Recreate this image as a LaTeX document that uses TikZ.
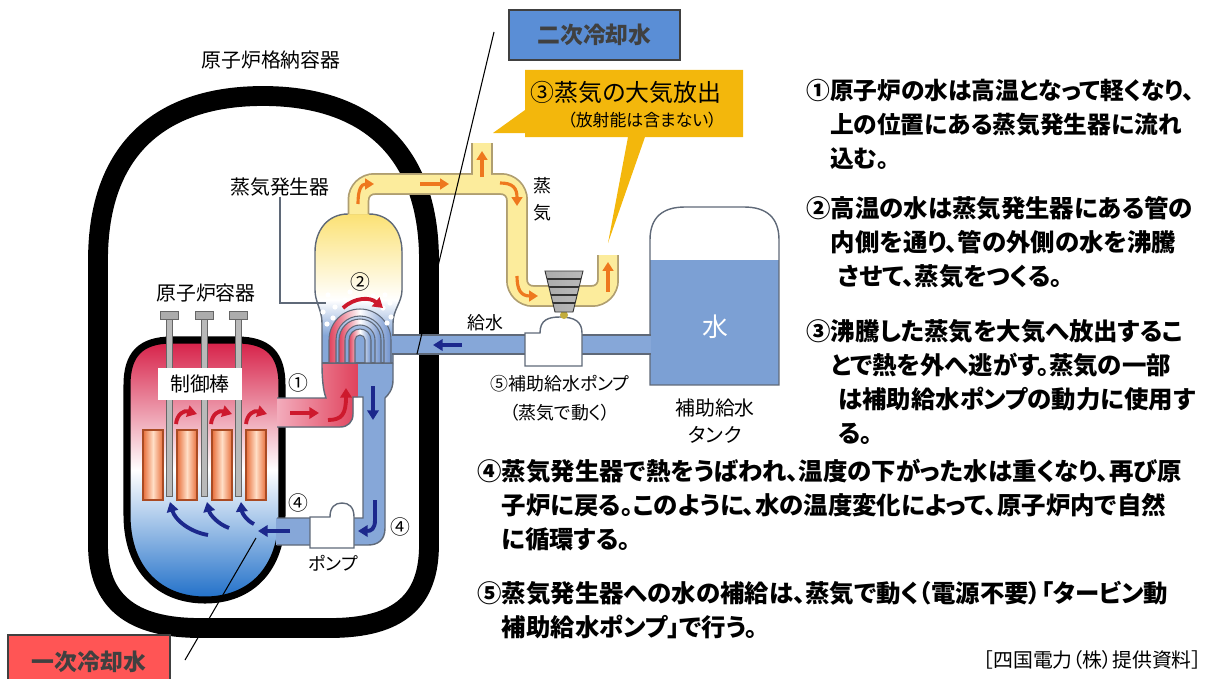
\documentclass[tikz,border=0pt]{standalone}
\usepackage{fontspec}
\setmainfont{Noto Sans CJK JP}[RawFeature=+palt]
\usepackage{xcolor}
\usetikzlibrary{arrows.meta}

\definecolor{pipeblue}{RGB}{134,167,216}
\definecolor{tubeblue}{RGB}{112,146,205}
\definecolor{tankblue}{RGB}{124,160,212}
\definecolor{hotred}{RGB}{224,66,92}
\definecolor{hotpink}{RGB}{243,172,188}
\definecolor{corered}{RGB}{214,30,70}
\definecolor{coreblue}{RGB}{30,110,200}
\definecolor{steam}{RGB}{252,236,156}
\definecolor{steamtop}{RGB}{251,224,110}
\definecolor{steamedge}{RGB}{175,158,112}
\definecolor{edgegray}{RGB}{95,105,120}
\definecolor{arrorange}{RGB}{238,120,30}
\definecolor{arrred}{RGB}{205,25,45}
\definecolor{arrnavy}{RGB}{28,40,140}
\definecolor{calloutgold}{RGB}{243,183,12}
\definecolor{tagblue}{RGB}{90,142,214}
\definecolor{tagred}{RGB}{255,85,85}
\definecolor{fuel}{RGB}{232,110,58}
\definecolor{fuellight}{RGB}{255,222,198}
\definecolor{fueledge}{RGB}{170,75,35}

\begin{document}
\begin{tikzpicture}[
x=0.02cm, y=-0.02cm,
lbl/.style={font=\fontsize{11.3}{13}\selectfont, inner sep=0pt},
sml/.style={font=\fontsize{10.2}{12}\selectfont, inner sep=0pt},
desc/.style={font=\bfseries\fontsize{13.9}{19.3}\selectfont, align=left, inner sep=0pt, anchor=north west},
tagbox/.style={draw=black!75, line width=1pt, font=\bfseries\fontsize{13}{15}\selectfont, text=black!75, inner sep=0pt},
wall/.style={draw=edgegray, line width=0.8pt},
hotflow/.style={draw=arrred, line width=2.2pt, -{Triangle[length=5.5pt, width=6.5pt]}},
coldflow/.style={draw=arrnavy, line width=2.2pt, -{Triangle[length=5.5pt, width=6.5pt]}},
vapflow/.style={draw=arrorange, line width=1.8pt, -{Triangle[length=5pt, width=6pt]}}
]
\useasboundingbox (0,0) rectangle (1213,679);

% containment
\draw[line width=11.3pt] (98,400) -- (98,545) .. controls (98,600) and (130,628) .. (200,628) -- (330,628) .. controls (400,628) and (429,600) .. (429,545) -- (429,260) .. controls (429,150) and (366,96) .. (263,96) .. controls (160,96) and (98,150) .. (98,260) -- cycle;

% tank
\fill[tankblue] (650,260) rectangle (779,385);
\draw[wall] (650,385) -- (650,240) .. controls (650,218) and (662,207) .. (685,207) -- (744,207) .. controls (767,207) and (779,218) .. (779,240) -- (779,385) -- cycle;

% steam generator shell
\begin{scope}
\clip (322,365) -- (322,323) .. controls (322,310) and (315,302) .. (315,290) -- (315,252) .. controls (315,230) and (328,214) .. (348,214) -- (369,214) .. controls (389,214) and (402,230) .. (402,252) -- (402,290) .. controls (402,302) and (393,310) .. (393,323) -- (393,365) -- cycle;
\fill[top color=steamtop, bottom color=white] (310,210) rectangle (405,300);
\fill[top color=white, bottom color=pipeblue] (310,300) rectangle (405,335);
\fill[pipeblue] (310,335) rectangle (405,366);
\end{scope}
\draw[wall] (348,214) .. controls (328,214) and (315,230) .. (315,252) -- (315,290) .. controls (315,302) and (322,310) .. (322,323) -- (322,363);
\draw[wall] (369,214) .. controls (389,214) and (402,230) .. (402,252) -- (402,290) .. controls (402,302) and (393,310) .. (393,323) -- (393,363);

% steam line
\draw[steamedge, line width=12.5pt, rounded corners=9pt] (358.5,214) -- (358.5,184) -- (517,184) -- (517,296) -- (608,296) -- (608,255);
\draw[steamedge, line width=12.5pt] (482,184) -- (482,143);
\draw[steam, line width=10.5pt, rounded corners=9pt] (358.5,214) -- (358.5,184) -- (517,184) -- (517,296) -- (608,296) -- (608,255);
\draw[steam, line width=10.5pt] (482,184) -- (482,143);

% feed water line
\draw[edgegray, line width=11.5pt] (392,344.5) -- (651,344.5);
\draw[pipeblue, line width=10pt] (392,344.5) -- (651,344.5);

% reactor vessel
\draw[line width=4pt, top color=corered, bottom color=coreblue, middle color=white] (127,385) .. controls (127,355) and (140,340) .. (172,340) -- (237,340) .. controls (269,340) and (282,355) .. (282,385) -- (282,515) .. controls (282,570) and (250,600) .. (205,600) .. controls (160,600) and (127,570) .. (127,515) -- cycle;
\foreach \fx in {143,177,212,246}
  \draw[fueledge, line width=0.6pt, left color=fuel, right color=fuel, middle color=fuellight] (\fx,430) rectangle (\fx+20,500);
\foreach \rx in {169,204,238} {
  \draw[black!60, fill=gray!55, line width=0.5pt] (\rx-3,318) rectangle (\rx+3,496);
  \draw[black!60, fill=gray!65, line width=0.5pt] (\rx-9,311) rectangle (\rx+9,319);
}
\node[lbl, fill=white, minimum width=1.7cm, minimum height=0.64cm] (rods) at (200,384) {制御棒};

% primary loop
\fill[left color=hotpink, right color=hotred] (277,398) -- (326,398) .. controls (323,390) and (322,378) .. (322,363) -- (358,363) -- (358,397) -- (353,397) -- (353,414) .. controls (353,422) and (348,427) .. (340,427) -- (277,427) -- cycle;
\fill[pipeblue] (358,363) -- (393,363) -- (393,380) .. controls (393,390) and (388,395) .. (385,398) -- (385,528) .. controls (385,540) and (378,545) .. (368,545) -- (276,545) -- (276,518) -- (363,518) -- (363,397) -- (358,397) -- cycle;
\draw[wall] (277,398) -- (326,398) .. controls (323,390) and (322,378) .. (322,363);
\draw[wall] (277,427) -- (340,427) .. controls (348,427) and (353,422) .. (353,414) -- (353,397) -- (363,397) -- (363,518) -- (277,518);
\draw[wall] (393,363) -- (393,380) .. controls (393,390) and (388,395) .. (385,398) -- (385,528) .. controls (385,540) and (378,545) .. (368,545) -- (277,545);
\draw[wall] (322,363) -- (393,363);
\foreach \ro/\ri in {31/24,21/15,11/5}
  \draw[edgegray, line width=0.6pt, left color=hotred, right color=tubeblue, middle color=white] (360-\ro,363) -- (360-\ro,340) arc[start angle=180, end angle=360, radius=\ro] -- (360+\ro,363) -- (360+\ri,363) -- (360+\ri,340) arc[start angle=360, end angle=180, radius=\ri] -- (360-\ri,363) -- cycle;
\foreach \bx/\by in {328/295,335/307,323/312,333/318,327/324,345/300,373/296,385/295,390/303,383/308,391/317,387/323,350/292}
  \fill[white] (\bx,\by) circle[radius=2.6];

% pumps and turbine
\draw[wall, fill=white] (310,548) -- (310,517) -- (330,517) .. controls (330,507) and (335,503) .. (342,503) .. controls (349,503) and (354,507) .. (354,517) -- (354,548) -- cycle;
\draw[wall, fill=white] (525,366) -- (525,333) -- (540,333) .. controls (540,320) and (548,317) .. (560,317) .. controls (575,317) and (582,322) .. (582,333) -- (582,366) -- cycle;
\fill[brown!50!yellow!70!gray] (564,315) circle[radius=4];
\draw[gray!40!black, line width=0.5pt, left color=gray!65, middle color=gray!15, right color=gray!55] (545,271) -- (583,271) -- (573,312) -- (555,312) -- cycle;
\foreach \ty in {279,287,295,303}
  \draw[gray!40!black, line width=0.9pt] ({545+10*(\ty-271)/41},\ty) -- ({583-10*(\ty-271)/41},\ty);

% flow arrows
\foreach \ax in {176,211,246}
  \draw[hotflow] (\ax,424) .. controls (\ax+1,414) and (\ax+8,410) .. (\ax+21,414);
\draw[hotflow] (290,413) -- (319,413);
\draw[hotflow] (328,420) .. controls (342,420) and (346,414) .. (346,388);
\draw[hotflow] (343,308) .. controls (355,297) and (370,297) .. (383,308);
\draw[coldflow] (373,386) -- (373,420);
\draw[coldflow] (375,500) -- (375,520) .. controls (375,529) and (371,531) .. (358,531);
\draw[coldflow] (290,531) -- (258,531);
\draw[coldflow] (208,535) .. controls (190,532) and (175,520) .. (170,502);
\draw[coldflow] (229,528) .. controls (218,524) and (210,515) .. (207,502);
\draw[coldflow] (254,524) .. controls (247,521) and (242,513) .. (241,502);
\draw[coldflow] (462,345) -- (433,345);
\draw[vapflow] (358,204) .. controls (358,190) and (361,184) .. (374,184);
\draw[vapflow] (420,184) -- (449,184);
\draw[vapflow] (482,177) -- (482,151);
\draw[vapflow] (500,183) .. controls (513,183) and (517,188) .. (517,206);
\draw[vapflow] (517,276) .. controls (517,290) and (521,296) .. (538,296);
\draw[vapflow] (608,292) -- (608,262);

% labels
\node[lbl] (cvlabel) at (271,60) {原子炉格納容器};
\node[lbl] (sglabel) at (280,187) {蒸気発生器};
\node[lbl] (rvlabel) at (206,293) {原子炉容器};
\coordinate (sgtip) at (326,303);
\draw[edgegray, line width=0.7pt] (sglabel.south) |- (sgtip);
\node[lbl] (mark1) at (298,383) {①};
\node[lbl] (mark2) at (360,282) {②};
\node[lbl] (mark4a) at (298,503) {④};
\node[lbl] (mark4b) at (400,527) {④};
\node[sml] (pumplabel) at (333,563) {ポンプ};
\node[sml] (feedlabel) at (485,323) {給水};
\node[sml, align=center, font=\fontsize{10.2}{15.3}\selectfont] (vaplabel) at (542,199) {蒸\\気};
\node[sml, align=center, font=\fontsize{10.2}{16.4}\selectfont] (auxlabel) at (560,398) {⑤補助給水ポンプ\\（蒸気で動く）};
\node[lbl, align=center, font=\fontsize{11.3}{15.3}\selectfont] (tanklabel) at (715,421) {補助給水\\タンク};
\node[inner sep=0pt, text=white, font=\fontsize{14.7}{16}\selectfont] (water) at (715,327) {水};

% callout
\fill[calloutgold] (525,70) -- (743,70) -- (743,137) -- (645,137) -- (608,243) -- (628,137) -- (525,137) -- (525,133) -- (493,133) -- (525,110) -- cycle;
\node[inner sep=0pt, font=\fontsize{13.6}{16}\selectfont] (steamhead) at (626,92) {③蒸気の大気放出};
\node[inner sep=0pt, font=\fontsize{9.6}{12}\selectfont] (steamnote) at (642,120) {（放射能は含まない）};

% coolant tags
\node[tagbox, fill=tagblue, minimum width=3.42cm, minimum height=1cm] (tag2) at (594.5,35) {二次冷却水};
\node[tagbox, fill=tagred, minimum width=3.24cm, minimum height=1.08cm] (tag1) at (89,662) {一次冷却水};
\coordinate (sectop) at (494,32);
\coordinate (secend) at (417,354);
\coordinate (pritop) at (256,538);
\coordinate (priend) at (185,660);
\draw[line width=0.6pt] (sectop) -- (secend);
\draw[line width=0.6pt] (priend) -- (pritop);

% notes
\node[desc, font=\bfseries\fontsize{13.5}{19.3}\selectfont] (note1) at (806,79) {①原子炉の水は高温となって軽くなり、\\\hspace*{1em}上の位置にある蒸気発生器に流れ\\\hspace*{1em}込む。};
\node[desc] (note2) at (806,196) {②高温の水は蒸気発生器にある管の\\\hspace*{1em}内側を通り、管の外側の水を沸騰\\\hspace*{1.3em}させて、蒸気をつくる。};
\node[desc] (note3) at (806,319) {③沸騰した蒸気を大気へ放出するこ\\\hspace*{1em}とで熱を外へ逃がす。蒸気の一部\\\hspace*{1.3em}は補助給水ポンプの動力に使用す\\\hspace*{1.3em}る。};
\node[desc] (note4) at (477,459) {④蒸気発生器で熱をうばわれ、温度の下がった水は重くなり、再び原\\\hspace*{1em}子炉に戻る。このように、水の温度変化によって、原子炉内で自然\\\hspace*{1em}に循環する。};
\node[desc] (note5) at (477,581) {⑤蒸気発生器への水の補給は、蒸気で動く（電源不要）「タービン動\\\hspace*{1em}補助給水ポンプ」で行う。};
\node[lbl, anchor=west] (credit) at (983,660) {［四国電力（株）提供資料］};

\end{tikzpicture}
\end{document}
